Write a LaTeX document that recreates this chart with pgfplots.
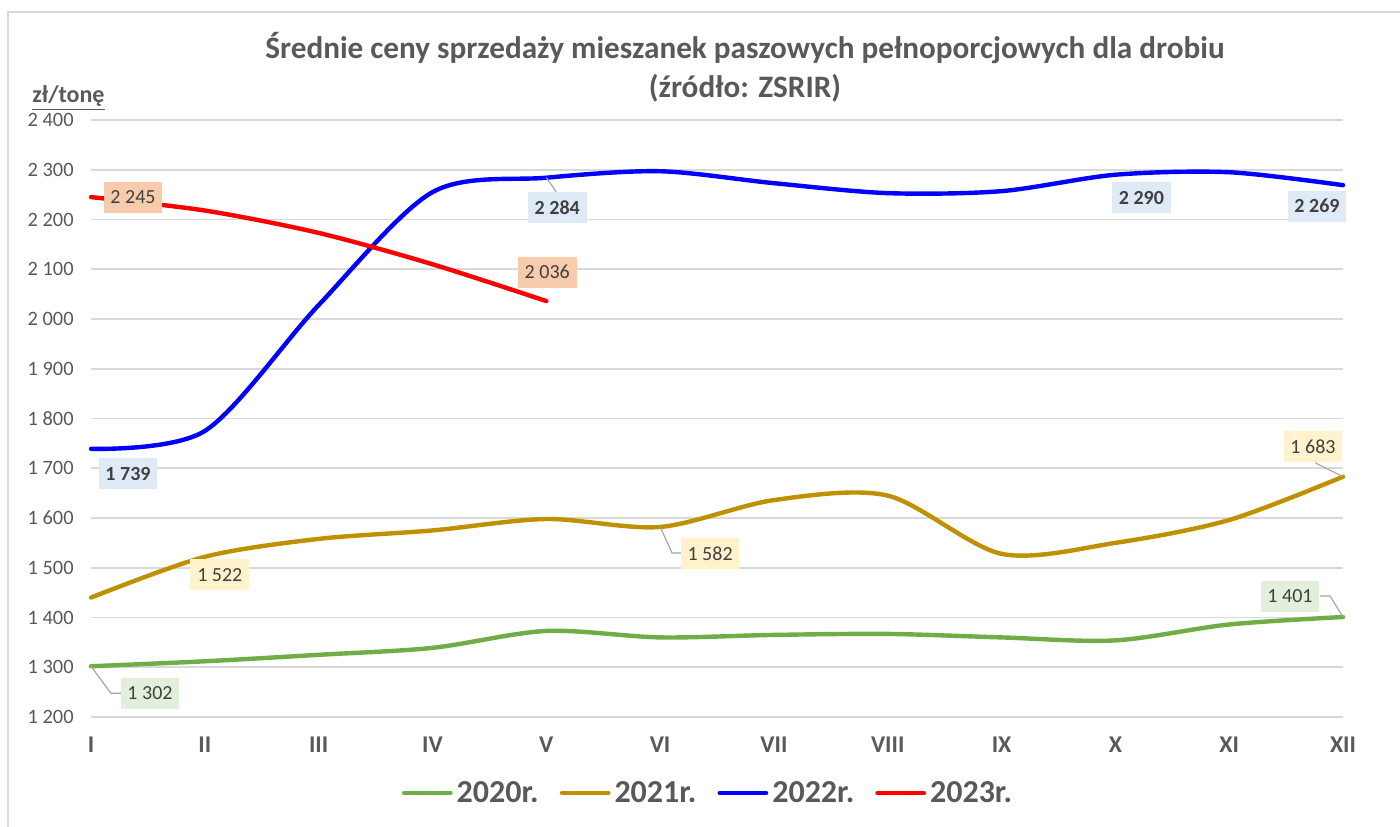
\documentclass[border=0pt]{standalone}
\usepackage{fontspec}
\setmainfont{Carlito}
\usepackage{pgfplots}
\pgfplotsset{compat=1.18}
\definecolor{txt}{HTML}{595959}
\definecolor{lbl}{HTML}{404040}
\definecolor{gridc}{HTML}{D9D9D9}
\definecolor{cgreen}{HTML}{70AD47}
\definecolor{cgold}{HTML}{BF9000}
\definecolor{cblue}{HTML}{0000FF}
\definecolor{cred}{HTML}{FF0000}
\definecolor{fgreen}{HTML}{E2EFDA}
\definecolor{fgold}{HTML}{FFF2CC}
\definecolor{fblue}{HTML}{DEEBF7}
\definecolor{fred}{HTML}{F8CBAD}
\definecolor{lead}{HTML}{A6A6A6}
\tikzset{lab/.style={text=lbl, font=\fontsize{10}{12}\selectfont, inner xsep=3.4pt, inner ysep=0pt, minimum height=15.5pt, anchor=center}}
\begin{document}
\begin{tikzpicture}
\useasboundingbox (0,0) rectangle (700pt,413pt);
\fill[white] (0,0) rectangle (700pt,413pt);
\draw[gridc, line width=1pt] (4pt,-10pt) -- (4pt,407pt) -- (710pt,407pt);
\node[font=\fontsize{15.6}{18}\selectfont\bfseries, text=txt] at (372.5pt,389pt) {Średnie ceny sprzedaży mieszanek paszowych pełnoporcjowych dla drobiu};
\node[font=\fontsize{15.6}{18}\selectfont\bfseries, text=txt] at (372.5pt,369pt) {(źródło: ZSRIR)};
\node[font=\fontsize{12}{14}\selectfont\bfseries, text=txt, anchor=base west, inner sep=0pt] at (16pt,361.5pt) {\underline{zł/tonę}};
\begin{axis}[
  at={(45.5pt,54.5pt)}, anchor=origin,
  scale only axis, width=626pt, height=298.5pt,
  xmin=0, xmax=11, ymin=1200, ymax=2400,
  clip=false,
  axis line style={draw=none},
  major tick style={draw=none},
  xtick={0,1,2,3,4,5,6,7,8,9,10,11},
  xticklabels={I,II,III,IV,V,VI,VII,VIII,IX,X,XI,XII},
  ytick={1200,1300,1400,1500,1600,1700,1800,1900,2000,2100,2200,2300,2400},
  ymajorgrids, major grid style={gridc, line width=0.8pt},
  /pgf/number format/assume math mode=true,
  /pgf/number format/1000 sep={\hspace{0.226em}},
  yticklabel style={font=\fontsize{10.2}{12}\selectfont, text=txt, inner sep=0pt, anchor=east, xshift=-8.5pt},
  xticklabel style={font=\fontsize{12}{14}\selectfont\bfseries, text=txt, inner sep=0pt, anchor=north, yshift=-10pt},
  legend style={draw=none, fill=none, at={(0.4936,-0.1273)}, anchor=center,
    font=\fontsize{16}{18}\selectfont\bfseries, text=txt,
    /tikz/every even column/.append style={column sep=8.5pt},
    /tikz/every odd column/.append style={column sep=0pt}},
  legend columns=4,
  legend image code/.code={\draw[#1, line width=2.4pt, line cap=round] (0pt,0pt) -- (23pt,0pt);},
]
\addplot[cgreen, line width=2.2pt, smooth, line cap=round] coordinates {(0,1302)(1,1312)(2,1325)(3,1339)(4,1373)(5,1360)(6,1365)(7,1367)(8,1360)(9,1354)(10,1386)(11,1401)};
\addlegendentry{2020r.}
\addplot[cgold, line width=2.2pt, smooth, line cap=round] coordinates {(0,1440)(1,1522)(2,1558)(3,1575)(4,1598)(5,1582)(6,1636)(7,1645)(8,1528)(9,1550)(10,1596)(11,1683)};
\addlegendentry{2021r.}
\addplot[cblue, line width=2.2pt, smooth, line cap=round] coordinates {(0,1739)(1,1775)(2,2028)(3,2255)(4,2284)(5,2297)(6,2273)(7,2253)(8,2257)(9,2290)(10,2295)(11,2269)};
\addlegendentry{2022r.}
\addplot[cred, line width=2.2pt, smooth, line cap=round] coordinates {(0,2245)(1,2218)(2,2173)(3,2110)(4,2036)};
\addlegendentry{2023r.}
% leader lines
\draw[lead, line width=0.6pt] (axis cs:0,1302) -- ++(10pt,-13.5pt) -- ++(5pt,0pt);
\draw[lead, line width=0.6pt] (axis cs:5,1582) -- ++(6pt,-13pt) -- ++(5pt,0pt);
\draw[lead, line width=0.6pt] (axis cs:11,1683) -- ++(-14pt,7pt);
\draw[lead, line width=0.6pt] (axis cs:11,1401) -- ++(-6.5pt,10.5pt) -- ++(-5pt,0pt);
\draw[lead, line width=0.6pt] (axis cs:4,2284) -- ++(5pt,-7pt);
% data labels
\node[lab, fill=fgreen, xshift=29.5pt, yshift=-13.5pt] at (axis cs:0,1302) {1~302};
\node[lab, fill=fgreen, xshift=-26.5pt, yshift=10.5pt] at (axis cs:11,1401) {1~401};
\node[lab, fill=fgold, xshift=7.5pt, yshift=-9pt] at (axis cs:1,1522) {1~522};
\node[lab, fill=fgold, xshift=25pt, yshift=-13.5pt] at (axis cs:5,1582) {1~582};
\node[lab, fill=fgold, xshift=-15pt, yshift=15pt] at (axis cs:11,1683) {1~683};
\node[lab, fill=fblue, font=\fontsize{10}{12}\selectfont\bfseries, xshift=18.5pt, yshift=-12.5pt] at (axis cs:0,1739) {1~739};
\node[lab, fill=fblue, font=\fontsize{10}{12}\selectfont\bfseries, xshift=5.5pt, yshift=-15pt] at (axis cs:4,2284) {2~284};
\node[lab, fill=fblue, font=\fontsize{10}{12}\selectfont\bfseries, xshift=13pt, yshift=-11.5pt] at (axis cs:9,2290) {2~290};
\node[lab, fill=fblue, font=\fontsize{10}{12}\selectfont\bfseries, xshift=-13pt, yshift=-10.5pt] at (axis cs:11,2269) {2~269};
\node[lab, fill=fred, xshift=21pt] at (axis cs:0,2245) {2~245};
\node[lab, fill=fred, xshift=0.5pt, yshift=14.5pt] at (axis cs:4,2036) {2~036};
\end{axis}
\end{tikzpicture}
\end{document}
